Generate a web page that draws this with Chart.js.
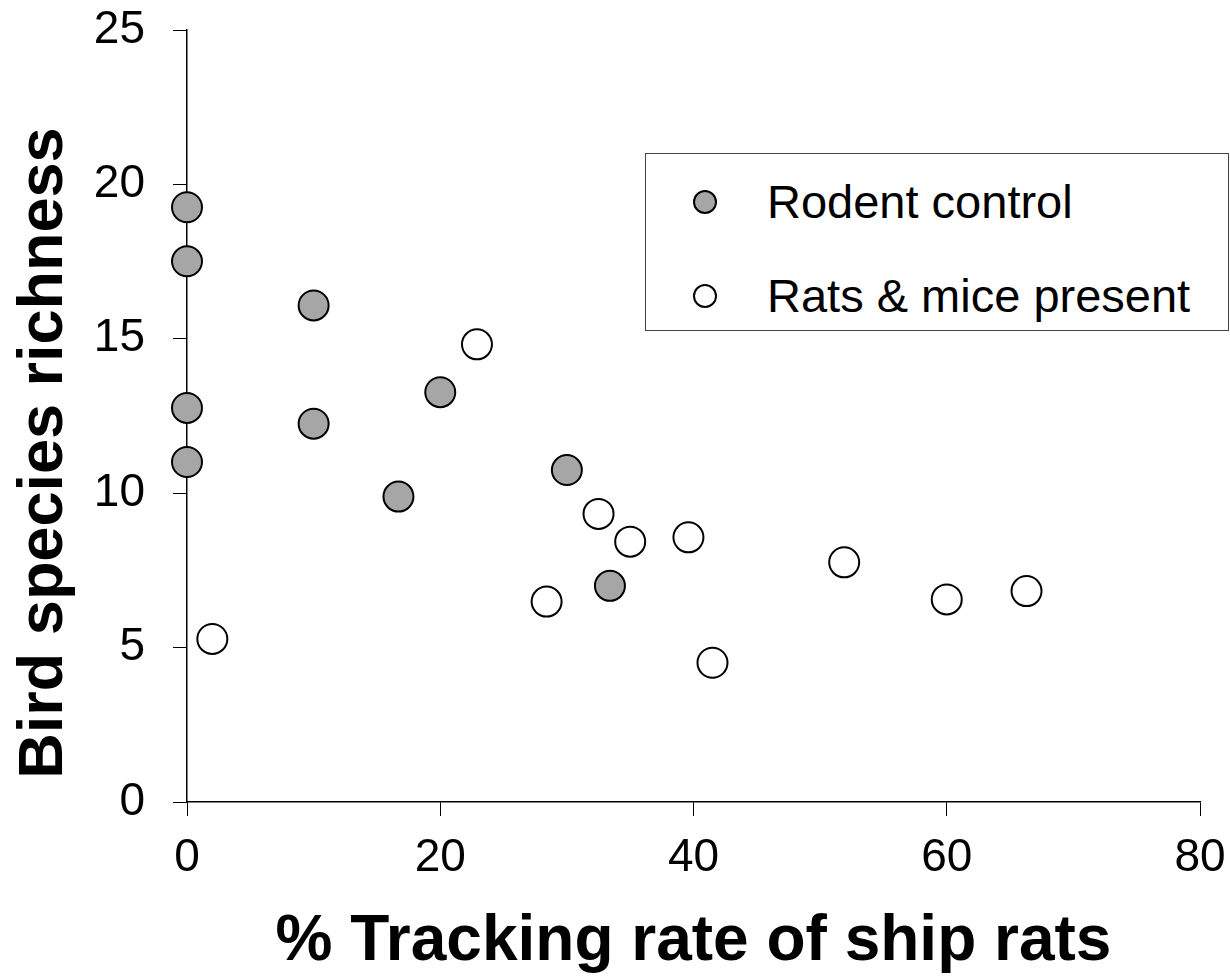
<!DOCTYPE html>
<html>
<head>
<meta charset="UTF-8">
<title>Bird species richness vs ship rat tracking</title>
<script src="https://cdn.jsdelivr.net/npm/chart.js@4.4.1/dist/chart.umd.min.js"></script>
<style>
	body { margin:0; background:#fff; }
	#wrap { position:relative; width:1230px; height:977px; }
	#legendBox {
		position:absolute; left:645px; top:153px; width:584px; height:178px;
		border:1px solid #444; background:#fff; box-sizing:border-box;
		font-family:'Liberation Sans', Arial, sans-serif; font-size:47px; color:#000;
	}
	.lrow { position:absolute; left:0; height:47px; line-height:47px; white-space:nowrap; }
	.lmark { position:absolute; left:47px; top:12px; width:24px; height:24px; box-sizing:border-box;
		border:2px solid #000; border-radius:50%; }
	.ltext { position:absolute; left:121px; top:0; }
</style>
</head>
<body>
<div id="wrap">
	<canvas id="myChart" width="1230" height="977"></canvas>
	<div id="legendBox"></div>
</div>

<script>
	// x = % tracking rate of ship rats, y = bird species richness
	let controlX = [0, 0, 0, 0, 10, 10, 16.7, 20, 30, 33.4];
	let controlY = [19.26, 17.51, 12.76, 11.01, 16.08, 12.25, 9.89, 13.27, 10.75, 7.0];
	let ratsX = [2.0, 22.9, 28.4, 32.5, 35.0, 39.6, 41.5, 51.9, 60.0, 66.3];
	let ratsY = [5.28, 14.82, 6.49, 9.33, 8.43, 8.57, 4.51, 7.76, 6.56, 6.83];
	let seriesNames = ['Rodent control', 'Rats & mice present'];
	let xTicks = [0, 20, 40, 60, 80];
	let yTicks = [0, 5, 10, 15, 20, 25];

	const FONT = "'Liberation Sans', Arial, sans-serif";

	function toPoints(xs, ys) {
		return xs.map(function(x, i) { return {x: x, y: ys[i]}; });
	}

	// y axis title drawn by hand so it can sit a little below the axis centre
	const yTitle = {
		id: 'yTitle',
		afterDraw: function(chart) {
			const ctx = chart.ctx;
			ctx.save();
			ctx.translate(62, 453);
			ctx.rotate(-Math.PI / 2);
			ctx.font = "bold 63px " + FONT;
			ctx.fillStyle = '#000';
			ctx.textAlign = 'center';
			ctx.textBaseline = 'alphabetic';
			ctx.fillText('Bird species richness', 0, 0);
			ctx.restore();
		}
	};

	// html legend in a framed box
	const boxLegend = {
		id: 'boxLegend',
		afterUpdate: function(chart) {
			const box = document.getElementById('legendBox');
			box.innerHTML = '';
			chart.data.datasets.forEach(function(ds, i) {
				const row = document.createElement('div');
				row.className = 'lrow';
				row.style.top = (24 + i * 94) + 'px';
				const mark = document.createElement('span');
				mark.className = 'lmark';
				mark.style.background = ds.backgroundColor;
				const txt = document.createElement('span');
				txt.className = 'ltext';
				txt.textContent = ds.label;
				row.appendChild(mark);
				row.appendChild(txt);
				box.appendChild(row);
			});
		}
	};

	const axisCommon = {
		grid: { display: true, drawOnChartArea: false, drawTicks: true, tickLength: 14, tickColor: '#000', lineWidth: 1 },
		border: { display: true, color: '#000', width: 1.5 }
	};

	new Chart('myChart', {
		type: 'scatter',
		data: {
			datasets: [{
				label: seriesNames[0],
				data: toPoints(controlX, controlY),
				backgroundColor: '#a6a6a6',
				borderColor: '#000',
				borderWidth: 2,
				pointRadius: 15,
				clip: false
			}, {
				label: seriesNames[1],
				data: toPoints(ratsX, ratsY),
				backgroundColor: '#ffffff',
				borderColor: '#000',
				borderWidth: 2,
				pointRadius: 15,
				clip: false
			}]
		},
		options: {
			responsive: false,
			animation: false,
			layout: { padding: { top: 30, right: 30, left: 0, bottom: 0 } },
			plugins: { legend: { display: false }, tooltip: { enabled: false } },
			scales: {
				x: Object.assign({}, axisCommon, {
					type: 'linear', min: 0, max: 80,
					afterBuildTicks: function(s) { s.ticks = xTicks.map(function(v) { return {value: v}; }); },
					afterFit: function(s) { s.height = 175; s.paddingLeft = 0; s.paddingRight = 0; },
					ticks: { padding: 19, color: '#000', font: { family: FONT, size: 46, lineHeight: 1 } },
					title: { display: true, text: '% Tracking rate of ship rats', color: '#000',
						font: { family: FONT, size: 64, weight: 'bold', lineHeight: 1 }, padding: { top: 0, bottom: 3 } }
				}),
				y: Object.assign({}, axisCommon, {
					type: 'linear', min: 0, max: 25,
					afterBuildTicks: function(s) { s.ticks = yTicks.map(function(v) { return {value: v}; }); },
					afterFit: function(s) { s.width = 187; s.paddingTop = 0; s.paddingBottom = 0; },
					ticks: { padding: 28, color: '#000', font: { family: FONT, size: 46, lineHeight: 1 } }
				})
			}
		},
		plugins: [yTitle, boxLegend]
	});
</script>
</body>
</html>
